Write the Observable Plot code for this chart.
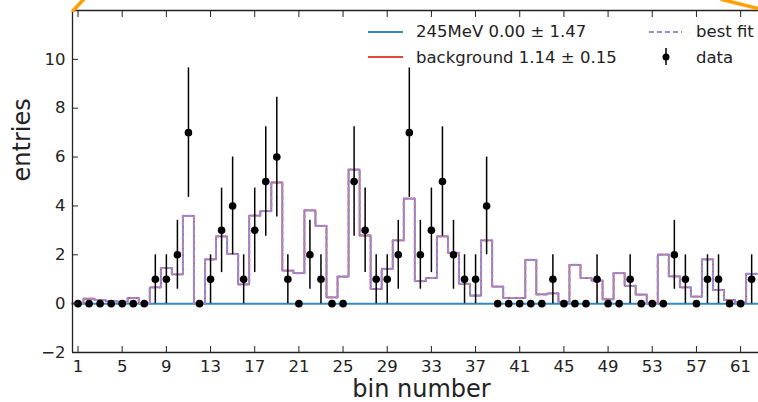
<!DOCTYPE html>
<html><head><meta charset="utf-8">
<script src="https://cdn.jsdelivr.net/npm/d3@7"></script>
<script src="https://cdn.jsdelivr.net/npm/@observablehq/plot@0.6"></script>
<style>
body{margin:0;background:#fff;}
#wrap{position:relative;width:758px;height:402px;font-family:"DejaVu Sans",sans-serif;overflow:hidden;}
#legend{position:absolute;left:0;top:0;}
</style></head><body><div id="wrap"></div>
<script>
const bins = [1,2,3,4,5,6,7,8,9,10,11,12,13,14,15,16,17,18,19,20,21,22,23,24,25,26,27,28,29,30,31,32,33,34,35,36,37,38,39,40,41,42,43,44,45,46,47,48,49,50,51,52,53,54,55,56,57,58,59,60,61,62];
const counts = [0,0,0,0,0,0,0,1,1,2,7,0,1,3,4,1,3,5,6,1,0,2,1,0,0,5,3,1,1,2,7,2,3,5,2,1,1,4,0,0,0,0,0,1,0,0,0,1,0,0,1,0,0,0,2,1,0,1,1,0,0,1];
const errors = [0,0,0,0,0,0,0,1,1,1.41,2.65,0,1,1.73,2,1,1.73,2.24,2.45,1,0,1.41,1,0,0,2.24,1.73,1,1,1.41,2.65,1.41,1.73,2.24,1.41,1,1,2,0,0,0,0,0,1,0,0,0,1,0,0,1,0,0,0,1.41,1,0,1,1,0,0,1];
const background = [0.03,0.2,0.15,0.1,0.08,0.23,0.02,0.67,1.46,1.2,3.59,0.01,1.81,2.75,2.04,0.79,3.6,3.79,4.96,1.35,1.25,3.82,3.18,0.26,1.11,5.49,2.79,0.6,1.42,2.59,4.3,0.92,1.05,2.75,2.08,0.81,0.33,2.59,0.7,0.23,0.23,1.79,0.38,0.42,0.07,1.59,1.05,0.94,0.18,1.25,0.73,0.37,0.03,2.01,1.12,0.67,0.29,1.81,0.56,0.15,0.05,1.22];
const signal245 = [0,0,0,0,0,0,0,0,0,0,0,0,0,0,0,0,0,0,0,0,0,0,0,0,0,0,0,0,0,0,0,0,0,0,0,0,0,0,0,0,0,0,0,0,0,0,0,0,0,0,0,0,0,0,0,0,0,0,0,0,0,0];
const xTicks = [1,5,9,13,17,21,25,29,33,37,41,45,49,53,57,61];
const yTicks = [-2,0,2,4,6,8,10];
const arcX = [0.57,1.6, 59.3,62.6];
const arcY = [12.0,12.5, 12.45,12.08];
const arcSeg = ["a","a","b","b"];
const legendLabels = ["245MeV 0.00 ± 1.47","background 1.14 ± 0.15","best fit","data"];

const bestFit = background.map((v,i)=>v+signal245[i]);
function steps(vals){
  const pts=[{x:bins[0]-0.5,y:0}];
  vals.forEach((v,i)=>pts.push({x:bins[i]-0.5,y:v}));
  pts.push({x:bins[bins.length-1]+0.5,y:vals[vals.length-1]});
  return pts;
}
const pts = bins.map((b,i)=>({bin:b,n:counts[i],e:errors[i]}));
const arc = arcX.map((x,i)=>({x,y:arcY[i],s:arcSeg[i]}));
const axisColor="#222";

const chart = Plot.plot({
  width:758, height:402, marginLeft:72, marginRight:0, marginTop:10, marginBottom:50,
  x:{domain:[0.5,62.62]}, y:{domain:[-2,12]},
  style:{fontFamily:"DejaVu Sans",fontSize:"16.5px",color:"#222",background:"white"},
  marks:[
    Plot.line(steps(signal245),{x:"x",y:"y",curve:"step-after",stroke:"#348ABD",strokeWidth:2}),
    Plot.line(steps(background),{x:"x",y:"y",curve:"step-after",stroke:"#E24A33",strokeWidth:1.8}),
    Plot.line(steps(bestFit),{x:"x",y:"y",curve:"step-after",stroke:"#988ED5",strokeWidth:2.2,strokeDasharray:"4,3"}),
    Plot.ruleX(pts.filter(d=>d.n>0),{x:"bin",y1:d=>d.n-d.e,y2:d=>d.n+d.e,stroke:"#000",strokeWidth:1.5}),
    Plot.dot(pts,{x:"bin",y:"n",r:3.8,fill:"#000",stroke:null}),
    Plot.ruleY([-2],{stroke:axisColor,strokeWidth:1.3}),
    Plot.ruleY([12],{stroke:axisColor,strokeWidth:1.3}),
    Plot.ruleX([0.5],{stroke:axisColor,strokeWidth:1.3}),
    Plot.axisX({ticks:xTicks,anchor:"bottom",tickSize:-6,tickPadding:14,label:null,stroke:axisColor}),
    Plot.axisX({ticks:xTicks,anchor:"top",tickSize:-6,tickFormat:()=>"",label:null,stroke:axisColor}),
    Plot.axisY({ticks:yTicks,anchor:"left",tickSize:-6,tickPadding:13,label:null,stroke:axisColor}),
    Plot.text(["bin number"],{frameAnchor:"bottom",lineAnchor:"middle",dy:37,dx:6,fontSize:24,fill:"#222"}),
    Plot.text(["entries"],{frameAnchor:"left",lineAnchor:"middle",rotate:-90,dx:-50,fontSize:24,fill:"#222"}),
    Plot.line(arc,{x:"x",y:"y",z:"s",stroke:"#FFA000",strokeWidth:3.5,clip:false})
  ]
});
const wrap=document.getElementById("wrap");
wrap.appendChild(chart);

// legend overlay
const svg=d3.select(wrap).append("svg").attr("id","legend").attr("width",758).attr("height",402)
  .style("font-family","DejaVu Sans").style("font-size","16.5px");
svg.append("line").attr("x1",368).attr("x2",403).attr("y1",32).attr("y2",32).attr("stroke","#348ABD").attr("stroke-width",2);
svg.append("line").attr("x1",368).attr("x2",403).attr("y1",57).attr("y2",57).attr("stroke","#E24A33").attr("stroke-width",2);
svg.append("line").attr("x1",649).attr("x2",682).attr("y1",32).attr("y2",32).attr("stroke","#988ED5").attr("stroke-width",2).attr("stroke-dasharray","5,3");
svg.append("line").attr("x1",666).attr("x2",666).attr("y1",48).attr("y2",65).attr("stroke","#000").attr("stroke-width",1.5);
svg.append("circle").attr("cx",666).attr("cy",57).attr("r",3.5).attr("fill","#000");
[[416,37,0],[416,63,1],[696,37,2],[696,63,3]].forEach(([x,y,i])=>{
  svg.append("text").attr("x",x).attr("y",y).attr("fill","#222").text(legendLabels[i]);
});
</script></body></html>
